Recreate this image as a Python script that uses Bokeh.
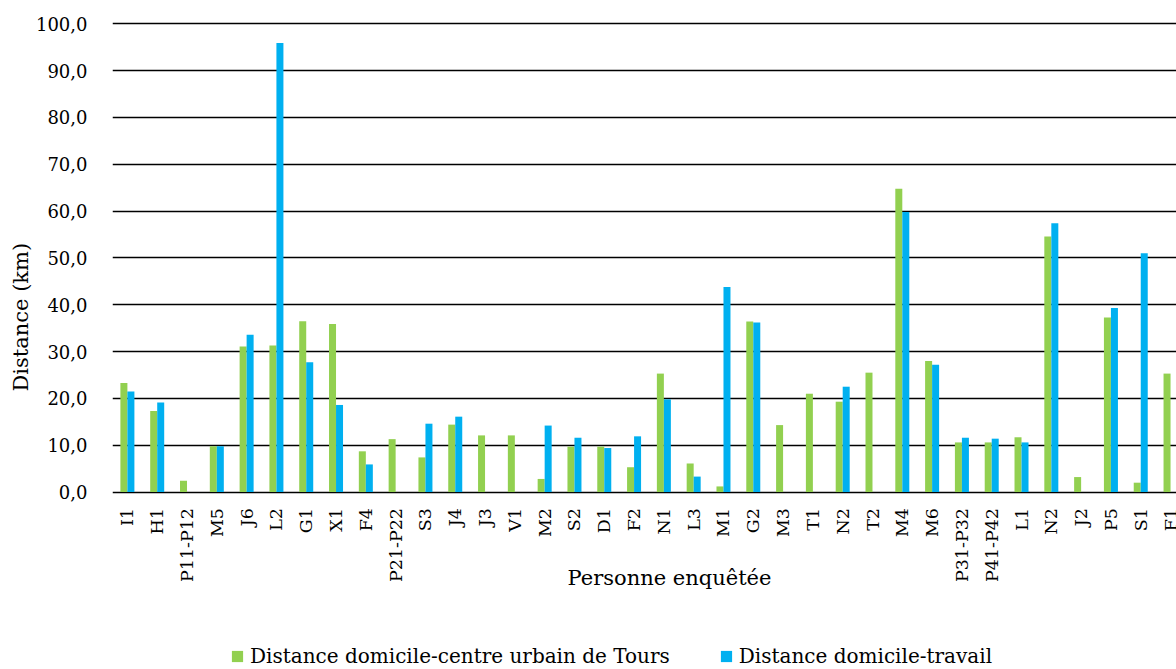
import math
from bokeh.plotting import figure
from bokeh.models import (ColumnDataSource, FixedTicker, CustomJSTickFormatter,
                          Label, Legend, LegendItem, Range1d, Title)
from bokeh.core.properties import value
from bokeh.transform import dodge
from bokeh.embed import file_html
from bokeh.resources import INLINE

categories = ["I1", "H1", "P11-P12", "M5", "J6", "L2", "G1", "X1", "F4", "P21-P22",
              "S3", "J4", "J3", "V1", "M2", "S2", "D1", "F2", "N1", "L3", "M1", "G2",
              "M3", "T1", "N2", "T2", "M4", "M6", "P31-P32", "P41-P42", "L1", "N2",
              "J2", "P5", "S1", "F1"]
centre_urbain = [23.3, 17.3, 2.4, 9.8, 31.1, 31.3, 36.5, 35.9, 8.7, 11.3,
                 7.4, 14.4, 12.1, 12.1, 2.8, 9.7, 9.7, 5.3, 25.3, 6.1, 1.2, 36.4,
                 14.3, 21.0, 19.3, 25.5, 64.8, 28.0, 10.6, 10.6, 11.7, 54.6,
                 3.2, 37.3, 2.0, 25.3]
travail = [21.5, 19.1, 0, 9.8, 33.6, 95.9, 27.7, 18.6, 5.9, 0,
           14.6, 16.1, 0, 0, 14.2, 11.6, 9.4, 11.9, 19.8, 3.3, 43.8, 36.2,
           0, 0, 22.5, 0, 59.8, 27.2, 11.6, 11.4, 10.6, 57.4,
           0, 39.3, 51.0, 0]
y_ticks = [0, 10, 20, 30, 40, 50, 60, 70, 80, 90, 100]
series_names = ["Distance domicile-centre urbain de Tours", "Distance domicile-travail"]
x_title = "Personne enquêtée"
y_title = "Distance (km)"
colors = ["#92D050", "#00B0F0"]

FONT = "DejaVu Serif"
idx = list(range(len(categories)))
zeros = [0] * len(categories)
src = ColumnDataSource(dict(x=idx, green=centre_urbain, blue=travail,
                            name=categories, base=zeros))

p = figure(width=1176, height=669, output_backend="svg", toolbar_location=None,
           x_range=Range1d(-0.5, 35.2), y_range=Range1d(-37.9, 100.5),
           min_border_left=112, min_border_right=0, min_border_top=21,
           min_border_bottom=0)
p.outline_line_color = None
p.background_fill_color = "white"
p.border_fill_color = "white"

bw = 0.235
rg = p.vbar(x=dodge("x", -bw / 2, range=p.x_range), top="green", width=bw, bottom=0,
            source=src, fill_color=colors[0], line_color=None)
rb = p.vbar(x=dodge("x", bw / 2, range=p.x_range), top="blue", width=bw, bottom=0,
            source=src, fill_color=colors[1], line_color=None)

# category labels, hung below the zero line
p.text(x="x", y="base", text="name", source=src, angle=math.pi / 2, y_offset=16,
       text_align="right", text_baseline="middle", text_font=value(FONT),
       text_font_size="17.5px", text_color="black")

# grid
p.xgrid.visible = False
p.ygrid.ticker = FixedTicker(ticks=y_ticks)
p.ygrid.grid_line_color = "black"
p.ygrid.grid_line_width = 1.6

# y axis
ya = p.yaxis[0]
ya.ticker = FixedTicker(ticks=y_ticks)
ya.formatter = CustomJSTickFormatter(code="return tick.toFixed(1).replace('.', ',');")
ya.axis_line_color = None
ya.major_tick_line_color = None
ya.minor_tick_line_color = None
ya.major_tick_out = 0
ya.major_tick_in = 0
ya.major_label_standoff = 25
ya.major_label_text_font = FONT
ya.major_label_text_font_size = "18px"
ya.major_label_text_color = "black"

p.xaxis.visible = False

# axis titles
p.add_layout(Label(x=18.19, y=-18.46, x_units="data", y_units="data",
                   text=x_title, text_align="center", text_baseline="middle",
                   text_font=FONT, text_font_size="21px", text_color="black"))
p.add_layout(Title(text=y_title, align="left", offset=278, standoff=0,
                   text_font=FONT, text_font_size="21px", text_font_style="normal",
                   text_color="black"), "left")

legend = Legend(items=[LegendItem(label=series_names[0], renderers=[rg]),
                       LegendItem(label=series_names[1], renderers=[rb])],
                location=(118, 1), orientation="horizontal",
                glyph_width=14, glyph_height=14, label_standoff=6, spacing=49,
                padding=0, margin=0, border_line_color=None,
                background_fill_alpha=0,
                label_text_font=FONT, label_text_font_size="20px",
                label_text_color="black")
p.add_layout(legend)

open("out.html", "w").write(file_html(p, INLINE))
